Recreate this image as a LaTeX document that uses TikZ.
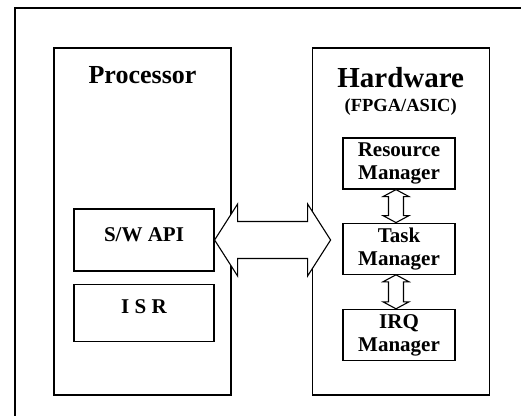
\documentclass[tikz,border=0pt]{standalone}
\usepackage{fontspec}
\setmainfont{Liberation Serif}
\usetikzlibrary{positioning}

\begin{document}
\begin{tikzpicture}[
    x=1pt, y=-1pt,
    node distance=12pt and 12pt,
    side/.style={draw, line width=1.2pt, minimum width=177pt, minimum height=347pt, inner sep=0pt},
    title/.style={inner sep=0pt, font=\bfseries\fontsize{26}{28}\selectfont},
    swbox/.style={draw, line width=1.2pt, minimum width=140pt, inner sep=0pt,
        text height=15pt, text depth=13pt, font=\bfseries\fontsize{21}{23}\selectfont},
    hwbox/.style={draw, line width=1.2pt, minimum width=112pt, minimum height=51pt, inner sep=0pt,
        align=center, font=\bfseries\fontsize{21}{23}\selectfont},
    fat/.style={draw, line width=1.1pt, fill=white, line join=miter}
]
\useasboundingbox (0,0) rectangle (521,415);
\clip (0,0) rectangle (521,415);
% outer frame: only its left and top sides fall on the page
\draw[line width=1.3pt] (15,700) -- (15,8) -- (800,8);

% the two sides
\node[side] (proc) at (142.5,221.5) {};
\node[side, right=80pt of proc] (hw) {};
\node[title, below=19pt of proc.north] (proctitle) {Processor};
\node[title, font=\bfseries\fontsize{29}{31}\selectfont, below=20pt of hw.north] (hwtitle) {Hardware};
\node[title, font=\bfseries\fontsize{18.5}{20}\selectfont, below=10pt of hwtitle] (hwsub) {(FPGA/ASIC)};

% software blocks
\node[swbox, minimum height=62pt] (api) at (144,240) {S/W API};
\node[swbox, minimum height=57pt, below=of api] (isr) {I S R};

% hardware blocks
\node[hwbox] (res) at (399,163.5) {Resource\\Manager};
\node[hwbox, below=33pt of res] (task) {Task\\Manager};
\node[hwbox, below=34pt of task] (irq) {IRQ\\Manager};

% wide two-way link between the sides
\draw[fat] (api.east) -- ++(23,-36) -- ++(0,17.5) -- ++(70,0) -- ++(0,-17.5)
    -- ++(23,36) -- ++(-23,36) -- ++(0,-17.5) -- ++(-70,0) -- ++(0,17.5) -- cycle;

% two-way links inside the hardware
\draw[fat] ([xshift=-3pt]res.south) -- ++(13,7) -- ++(-5.5,0) -- ++(0,19) -- ++(5.5,0)
    -- ++(-13,7) -- ++(-13,-7) -- ++(5.5,0) -- ++(0,-19) -- ++(-5.5,0) -- cycle;
\draw[fat] ([xshift=-3pt]task.south) -- ++(13,7) -- ++(-5.5,0) -- ++(0,20) -- ++(5.5,0)
    -- ++(-13,7) -- ++(-13,-7) -- ++(5.5,0) -- ++(0,-20) -- ++(-5.5,0) -- cycle;
\end{tikzpicture}
\end{document}
